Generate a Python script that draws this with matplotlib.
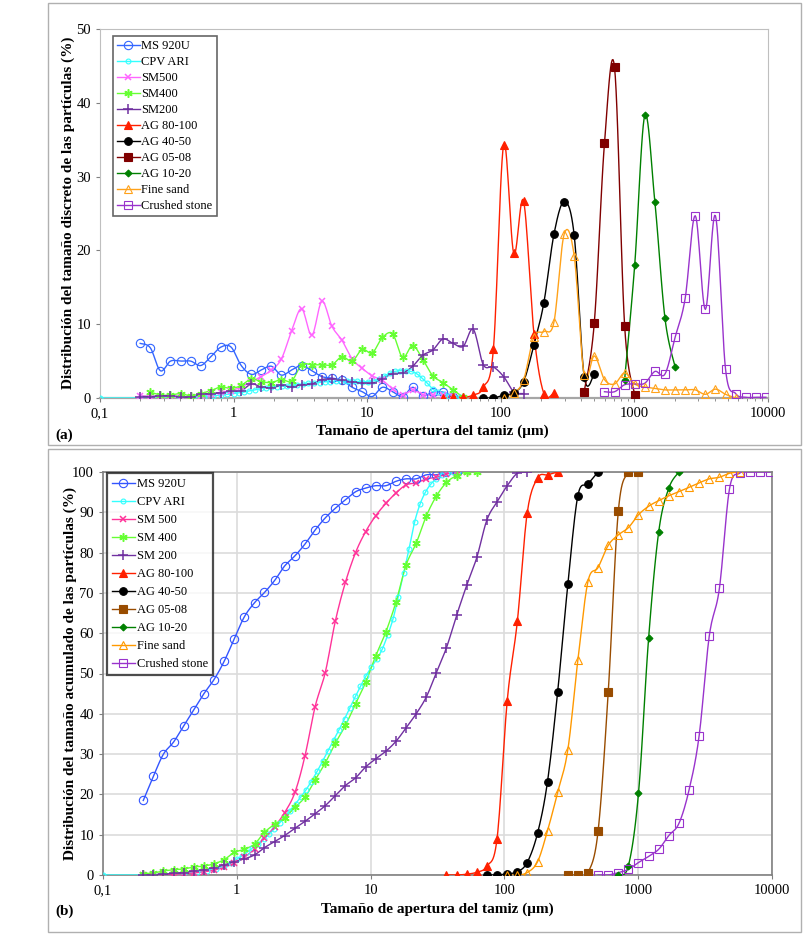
import numpy as np
import matplotlib
matplotlib.use('Agg')
import matplotlib.pyplot as plt
from matplotlib.lines import Line2D
from matplotlib.patches import Rectangle
from matplotlib.ticker import FixedLocator, LogLocator, NullFormatter

plt.rcParams['font.family'] = ['Liberation Serif', 'DejaVu Serif']

# sieve / laser sizes (um), shared grid
sizes = [0.2, 0.238, 0.283, 0.337, 0.401, 0.477, 0.568, 0.676, 0.804, 0.957,
         1.14, 1.36, 1.61, 1.92, 2.28, 2.72, 3.23, 3.85, 4.58, 5.45,
         6.48, 7.72, 9.18, 10.9, 13.0, 15.5, 18.4, 21.9, 26.1, 31.0,
         36.9, 43.9, 52.3, 62.2, 74.0, 88.1, 105, 125, 148, 177,
         210, 250, 298, 354, 421, 501, 597, 710, 845, 1005,
         1196, 1424, 1694, 2016, 2399, 2855, 3397, 4043, 4811, 5725,
         6813, 8107, 9648]

# CPV ARI has its own, finer grid
cpv_x_top = [0.1, 0.2, 0.4, 0.5, 0.6, 0.7, 0.8, 0.9, 1.0, 1.1,
             1.2, 1.3, 1.45, 1.6, 1.75, 1.9, 2.1, 2.3, 2.5, 2.75,
             3.0, 3.3, 3.6, 4.0, 4.4, 4.8, 5.3, 5.8, 6.4, 7.0,
             7.7, 8.4, 9.2, 10.1, 11.1, 12.2, 13.4, 14.7, 16.1, 17.7,
             19.4, 21.3, 23.4, 25.7, 28.2, 31.0, 34.0, 37.3, 41.0, 45.0, 49.4]
cpv_y_top = [0, 0, 0, 0.1, 0.2, 0.3, 0.4, 0.5, 0.6, 0.7,
             0.8, 0.95, 1.1, 1.3, 1.4, 1.5, 1.55, 1.6, 1.6, 1.7,
             1.8, 1.9, 2.0, 2.05, 2.1, 2.2, 2.2, 2.25, 2.3, 2.3,
             2.3, 2.25, 2.2, 2.2, 2.3, 2.6, 3.0, 3.35, 3.6, 3.7,
             3.65, 3.6, 3.3, 2.7, 2.0, 1.2, 0.8, 0.5, 0.3, 0.15, 0.1]
cpv_x_cum = cpv_x_top[:-1]
cpv_y_cum = [0, 0, 0.4, 0.7, 1.1, 1.6, 2.3, 3.0, 3.9, 4.8,
             5.7, 6.6, 7.8, 9.0, 10.2, 11.4, 13.0, 14.6, 16.0, 17.7,
             19.3, 21.2, 23.2, 25.8, 28.4, 30.8, 33.5, 36.0, 38.8, 41.5,
             44.3, 46.8, 49.3, 51.5, 53.5, 56.0, 59.5, 63.5, 69.0, 75.0,
             81.0, 87.5, 92.0, 95.0, 97.0, 98.3, 99.2, 99.8, 100, 100]

# (a) discrete distribution: start index in sizes + values
ms920_top = (0, [7.4, 6.8, 3.7, 5.0, 5.0, 5.0, 4.4, 5.6, 6.9, 6.9,
                 4.4, 3.2, 3.8, 4.3, 3.1, 3.8, 4.4, 3.7, 2.9, 2.7,
                 2.4, 1.45, 0.85, 0.2, 1.45, 0.85, 0.2, 1.45, 0.3, 0.8,
                 0.8, 0.2])
sm500_top = (0, [0.3, 0.2, 0.2, 0.2, 0.1, 0.2, 0.3, 0.5, 0.8, 1.0,
                 1.5, 2.2, 2.9, 3.8, 5.3, 9.1, 12.1, 8.5, 13.1, 9.7,
                 7.8, 5.3, 4.0, 3.0, 2.4, 1.2, 0.4, 1.1, 0.45, 0.4,
                 0.4, 0.3, 0.0])
sm400_top = (1, [0.8, 0.4, 0.4, 0.6, 0.3, 0.6, 1.0, 1.5, 1.3,
                 1.7, 2.6, 2.2, 2.1, 2.5, 2.3, 4.5, 4.5, 4.5, 4.5,
                 5.6, 5.0, 6.6, 6.1, 8.2, 8.7, 5.5, 7.1, 5.2, 3.0,
                 2.1, 1.1, 0.1])
sm200_top = (0, [0.2, 0.2, 0.3, 0.3, 0.2, 0.1, 0.5, 0.6, 0.7, 0.9,
                 1.0, 1.9, 1.5, 1.4, 1.7, 1.5, 1.8, 1.9, 2.5, 2.6,
                 2.4, 2.2, 2.0, 2.0, 2.6, 3.3, 3.4, 4.3, 5.8, 6.5,
                 8.0, 7.4, 7.0, 9.3, 4.5, 4.2, 2.9, 0.85, 0.6])
ag80_top = (30, [0, 0.2, 0.1, 0.4, 1.45, 6.7, 34.3, 19.6, 26.7, 8.7, 0.6, 0.7])
ag40_top = (34, [0, 0, 0.4, 0.7, 2.2, 7.2, 12.9, 22.2, 26.6, 22.1, 2.9, 3.3])
ag05_top = (44, [0.85, 10.2, 34.5, 44.8, 9.8, 0.4])
ag10_top = (48, [2.5, 18.0, 38.3, 26.5, 10.8, 4.2])
sand_top = (36, [0, 0.7, 2.4, 8.3, 9.0, 10.3, 22.2, 19.3, 3.1, 5.7,
                 2.5, 1.9, 3.4, 1.9, 1.5, 1.3, 1.1, 1.1, 1.1, 1.1,
                 0.5, 1.2, 0.5, 0.0])
stone_top = (46, [0.85, 0.85, 1.8, 1.9, 2.0, 3.6, 3.25, 8.2, 13.5, 24.7,
                  12.0, 24.7, 3.9, 0.6, 0.1, 0.1, 0.1])

# (b) cumulative distribution
ms920_cum = (0, [18.5, 24.5, 30, 33, 37, 41, 45, 48.5, 53, 58.6,
                 64.1, 67.6, 70.1, 73.1, 76.7, 79.2, 82.1, 85.6, 88.6, 91.0,
                 93.1, 95.1, 96.0, 96.6, 96.6, 97.7, 98.3, 98.3, 99.3, 99.3,
                 99.9, 100])
sm500_cum = (0, [0, 0, 0.1, 0.2, 0.3, 0.5, 0.8, 1.2, 1.9, 2.9,
                 4.4, 6.5, 9.1, 12.0, 15.5, 20.5, 29.5, 41.8, 50.2, 63.0,
                 72.6, 80.0, 85.2, 89.1, 92.2, 94.8, 96.8, 97.3, 98.3, 98.7,
                 99.5, 99.8, 100])
sm400_cum = (0, [0.3, 0.5, 1.0, 1.3, 1.5, 2.0, 2.2, 2.8, 3.8, 5.6,
                 6.4, 7.7, 10.6, 12.6, 14.2, 16.8, 19.3, 23.6, 27.8, 32.7,
                 37.1, 42.5, 47.8, 54.3, 60.3, 67.8, 76.9, 82.3, 89.1, 94.0,
                 97.4, 99.1, 100, 100])
sm200_cum = (0, [0, 0.1, 0.2, 0.4, 0.6, 1.0, 1.3, 1.8, 2.5, 3.3,
                 4.0, 5.0, 6.8, 8.3, 9.8, 11.6, 13.3, 15.2, 17.2, 19.7,
                 22.2, 24.1, 26.8, 28.8, 30.7, 33.2, 36.5, 40.0, 44.2, 50.2,
                 56.4, 64.4, 71.9, 78.8, 88.1, 92.6, 96.6, 99.7, 100])
ag80_cum = (30, [0, 0, 0.2, 0.7, 2.2, 9.0, 43.3, 63.0, 89.8, 98.5, 99.3, 100])
ag40_cum = (34, [0, 0, 0.3, 0.8, 3.1, 10.4, 23.2, 45.4, 72.1, 94.1, 97.0, 100])
ag05_cum = (42, [0, 0, 0.6, 10.8, 45.4, 90.2, 99.9, 100])
ag10_cum = (47, [0, 2.3, 20.3, 58.7, 85.2, 96.0, 100])
sand_cum = (36, [0, 0, 0.6, 3.3, 11.0, 20.5, 31.1, 53.3, 72.8, 76.3,
                 81.8, 84.4, 86.2, 89.4, 91.5, 92.9, 94.1, 95.1, 96.2, 97.3,
                 98.3, 98.7, 99.7, 100])
stone_cum = (45, [0, 0, 0.6, 1.4, 3.1, 4.6, 6.4, 9.8, 12.8, 21.1,
                  34.6, 59.3, 71.1, 95.8, 99.7, 100, 100, 100])

x_ticks = [0.1, 1, 10, 100, 1000, 10000]
x_tick_labels = ['0,1', '1', '10', '100', '1000', '10000']


def on_grid(series):
    start, vals = series
    return sizes[start:start + len(vals)], vals


def smooth(x, y, n=14):
    # Catmull-Rom through the points in (log x, y), like Excel's smoothed line
    lx = np.log10(np.asarray(x, float))
    yy = np.asarray(y, float)
    P = np.column_stack([lx, yy])
    P = np.vstack([P[0], P, P[-1]])
    out = []
    t = np.linspace(0, 1, n)[:, None]
    for i in range(1, len(P) - 2):
        p0, p1, p2, p3 = P[i - 1], P[i], P[i + 1], P[i + 2]
        seg = 0.5 * ((2 * p1) + (-p0 + p2) * t + (2 * p0 - 5 * p1 + 4 * p2 - p3) * t ** 2
                     + (-p0 + 3 * p1 - 3 * p2 + p3) * t ** 3)
        out.append(seg if i == 1 else seg[1:])
    S = np.vstack(out)
    return 10 ** S[:, 0], S[:, 1]


def draw(ax, x, y, color, marker, ms, filled, mew=1.0, lw=1.0):
    sx, sy = smooth(x, y)
    ax.plot(sx, sy, color=color, lw=lw, zorder=3)
    ax.plot(x, y, ls='none', marker=marker, ms=ms, mec=color,
            mfc=color if filled else 'none', mew=mew, zorder=4)
    return Line2D([], [], color=color, lw=lw, marker=marker, ms=ms, mec=color,
                  mfc=color if filled else 'none', mew=mew)


asterisk = (6, 2, 0)

top_style = [
    ('MS 920U', ms920_top, '#3366FF', 'o', 6, False),
    ('CPV ARI', None, '#33FFFF', 'o', 3.5, False),
    ('SM500', sm500_top, '#FF66FF', 'x', 5, False),
    ('SM400', sm400_top, '#66FF33', asterisk, 6, False),
    ('SM200', sm200_top, '#7030A0', '+', 7, False),
    ('AG 80-100', ag80_top, '#FF2000', '^', 5.5, True),
    ('AG 40-50', ag40_top, '#000000', 'o', 5.5, True),
    ('AG 05-08', ag05_top, '#800000', 's', 5.5, True),
    ('AG 10-20', ag10_top, '#008000', 'D', 3.5, True),
    ('Fine sand', sand_top, '#FFA21A', '^', 5.5, False),
    ('Crushed stone', stone_top, '#9933CC', 's', 5.5, False),
]

cum_style = [
    ('MS 920U', ms920_cum, '#3355FF', 'o', 6, False),
    ('CPV ARI', None, '#33FFFF', 'o', 3.5, False),
    ('SM 500', sm500_cum, '#FF3399', 'x', 5, False),
    ('SM 400', sm400_cum, '#66FF33', asterisk, 6, False),
    ('SM 200', sm200_cum, '#7030A0', '+', 7, False),
    ('AG 80-100', ag80_cum, '#FF2000', '^', 5.5, True),
    ('AG 40-50', ag40_cum, '#000000', 'o', 5.5, True),
    ('AG 05-08', ag05_cum, '#994C00', 's', 5.5, True),
    ('AG 10-20', ag10_cum, '#008000', 'D', 3.5, True),
    ('Fine sand', sand_cum, '#FF9900', '^', 5.5, False),
    ('Crushed stone', stone_cum, '#9933CC', 's', 5.5, False),
]

W, H = 810, 934
fig = plt.figure(figsize=(W / 100, H / 100), dpi=100)


def px_axes(l, t, r, b):
    return fig.add_axes([l / W, 1 - b / H, (r - l) / W, (b - t) / H])


# outer frames
for (l, t, r, b) in [(48, 3, 801, 445), (48, 449, 801, 932)]:
    fig.patches.append(Rectangle((l / W, 1 - b / H), (r - l) / W, (b - t) / H,
                                 transform=fig.transFigure, fill=False,
                                 ec='#b0b0b0', lw=1.0))

ax1 = px_axes(100, 29, 768, 398)
ax2 = px_axes(103, 472, 772, 875)

for ax, styles, cpv_x, cpv_y, ymax in [(ax1, top_style, cpv_x_top, cpv_y_top, 50),
                                       (ax2, cum_style, cpv_x_cum, cpv_y_cum, 100)]:
    handles = []
    for name, series, color, marker, ms, filled in styles:
        if series is None:
            x, y = cpv_x, cpv_y
        else:
            x, y = on_grid(series)
        mew = 1.1 if marker in ('x', '+', asterisk) else 0.8
        handles.append(draw(ax, x, y, color, marker, ms, filled, mew=mew))
    ax.set_xscale('log')
    ax.set_xlim(0.1, 10000)
    ax.set_ylim(0, ymax)
    ax.xaxis.set_major_locator(FixedLocator(x_ticks))
    ax.set_xticklabels(x_tick_labels)
    ax.xaxis.set_minor_locator(LogLocator(base=10, subs=np.arange(2, 10)))
    ax.xaxis.set_minor_formatter(NullFormatter())
    ax.set_yticks(np.arange(0, ymax + 1, 10))
    ax.tick_params(labelsize=10.5, length=3, color='#808080')
    ax.tick_params(which='minor', length=2, color='#808080')
    ax.handles = handles

# top chart: no grid, light frame
for s in ax1.spines.values():
    s.set_color('#bfbfbf')
ax1.spines['bottom'].set_linewidth(1.6)
ax1.spines['bottom'].set_color('#a6a6a6')

# bottom chart: grid, darker frame
ax2.grid(True, which='major', color='#dcdcdc', lw=1.2)
ax2.set_axisbelow(True)
for s in ax2.spines.values():
    s.set_color('#808080')
    s.set_linewidth(1.2)
ax2.tick_params(which='minor', length=0)

leg1 = ax1.legend(handles=ax1.handles, labels=[s[0] for s in top_style],
                  loc='upper left', bbox_to_anchor=(0.019, 0.982),
                  fontsize=9, frameon=True, fancybox=False, edgecolor='#404040',
                  handlelength=1.8, handletextpad=0.15, labelspacing=0.32,
                  borderpad=0.35, borderaxespad=0)
leg1.get_frame().set_linewidth(1.2)
leg2 = ax2.legend(handles=ax2.handles, labels=[s[0] for s in cum_style],
                  loc='upper left', bbox_to_anchor=(0.006, 0.997),
                  fontsize=9, frameon=True, fancybox=False, edgecolor='#202020',
                  handlelength=1.8, handletextpad=0.2, labelspacing=0.48,
                  borderpad=0.4, borderaxespad=0)
leg2.get_frame().set_linewidth(1.6)

lab = dict(fontsize=11, fontweight='bold', ha='center', va='center')
fig.text(68 / W, 1 - 213 / H, 'Distribución del tamaño discreto de las partículas (%)',
         rotation=90, **lab)
fig.text(70 / W, 1 - 673 / H, 'Distribución del tamaño acumulado de las partículas (%)',
         rotation=90, **lab)
fig.text(432 / W, 1 - 431 / H, 'Tamaño de apertura del tamiz (μm)', **lab)
fig.text(437 / W, 1 - 909 / H, 'Tamaño de apertura del tamiz (μm)', **lab)
fig.text(55 / W, 1 - 435 / H, '(a)', fontsize=11, fontweight='bold', va='center')
fig.text(55 / W, 1 - 911 / H, '(b)', fontsize=11, fontweight='bold', va='center')

fig.savefig('out.png', dpi=100)
